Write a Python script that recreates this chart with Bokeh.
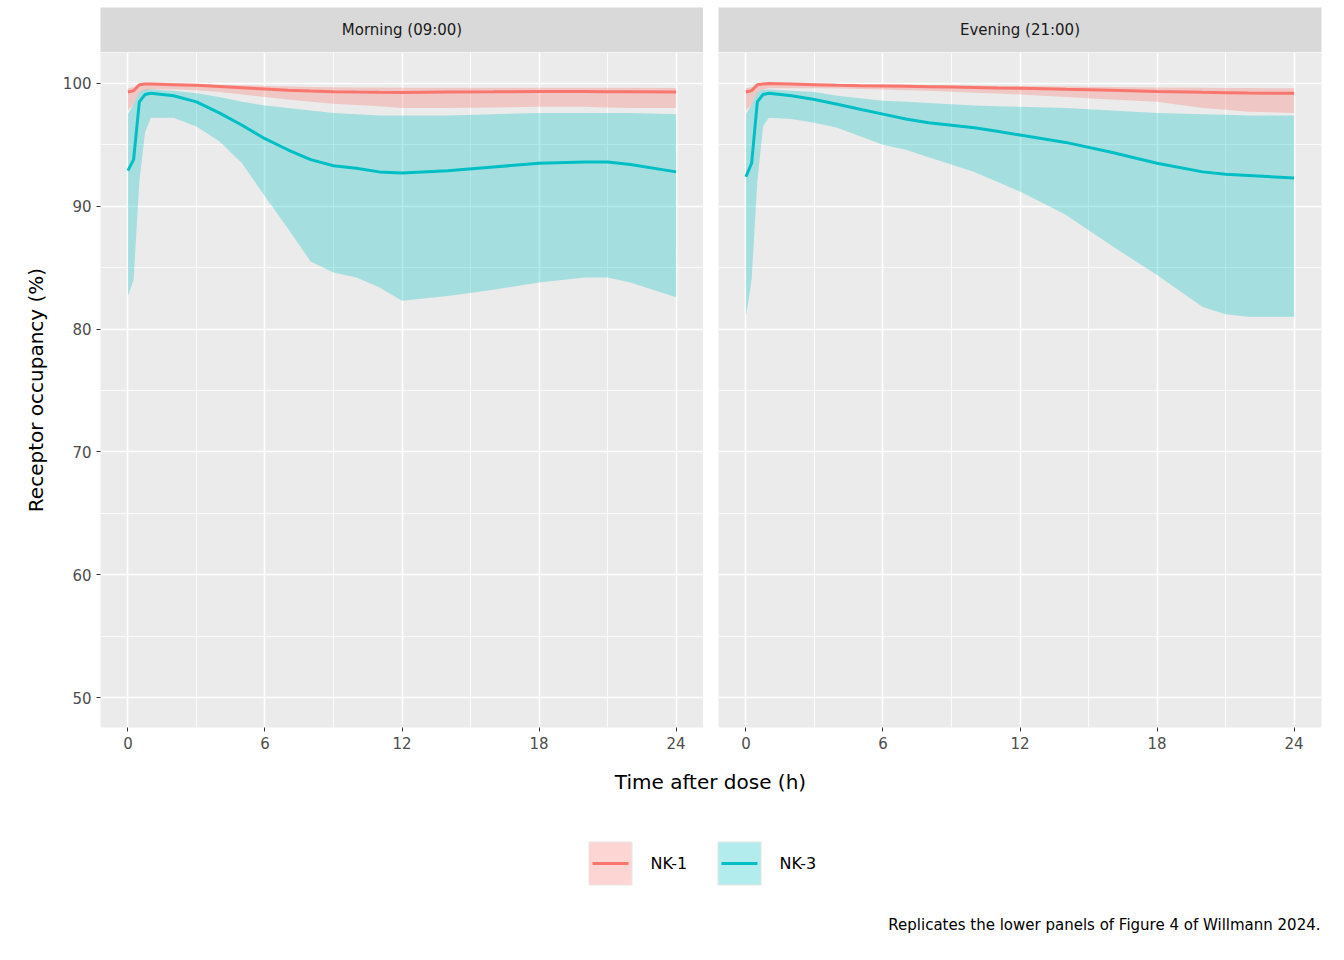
from bokeh.plotting import figure
from bokeh.layouts import column, row
from bokeh.models import FixedTicker, Range1d
from bokeh.core.properties import value
from bokeh.embed import file_html
from bokeh.resources import INLINE

T = [0, 0.25, 0.5, 0.75, 1, 2, 3, 4, 5, 6, 7, 8, 9, 10, 11, 12, 14, 16, 18, 20, 21, 22, 24]

# Morning
m_nk1_med = [99.3, 99.4, 99.9, 99.95, 99.95, 99.9, 99.85, 99.75, 99.65, 99.55, 99.45, 99.38, 99.33, 99.3, 99.28, 99.27, 99.3, 99.32, 99.35, 99.35, 99.33, 99.32, 99.3]
m_nk1_lo = [97.8, 98.3, 99.3, 99.45, 99.5, 99.5, 99.45, 99.3, 99.1, 98.9, 98.7, 98.5, 98.35, 98.25, 98.15, 98.0, 98.0, 98.05, 98.1, 98.1, 98.05, 98.0, 98.0]
m_nk1_hi = [99.6, 99.7, 99.95, 100.0, 100.0, 100.0, 99.95, 99.9, 99.85, 99.8, 99.75, 99.72, 99.7, 99.68, 99.67, 99.66, 99.66, 99.66, 99.66, 99.66, 99.65, 99.64, 99.62]
m_nk3_med = [92.9, 93.8, 98.5, 99.1, 99.2, 99.0, 98.5, 97.6, 96.6, 95.5, 94.6, 93.8, 93.3, 93.1, 92.8, 92.7, 92.9, 93.2, 93.5, 93.6, 93.6, 93.4, 92.8]
m_nk3_lo = [82.7, 84.0, 92.0, 96.0, 97.2, 97.2, 96.5, 95.3, 93.5, 90.8, 88.2, 85.5, 84.6, 84.2, 83.4, 82.3, 82.7, 83.2, 83.8, 84.2, 84.2, 83.8, 82.6]
m_nk3_hi = [97.5, 98.3, 99.3, 99.5, 99.5, 99.4, 99.2, 98.9, 98.5, 98.2, 98.0, 97.8, 97.6, 97.5, 97.4, 97.4, 97.4, 97.5, 97.6, 97.6, 97.6, 97.6, 97.5]

# Evening
e_nk1_med = [99.3, 99.4, 99.9, 99.95, 100.0, 99.95, 99.9, 99.85, 99.82, 99.8, 99.77, 99.74, 99.71, 99.67, 99.63, 99.6, 99.52, 99.45, 99.35, 99.28, 99.25, 99.22, 99.2]
e_nk1_lo = [97.8, 98.3, 99.3, 99.5, 99.6, 99.6, 99.6, 99.58, 99.55, 99.5, 99.45, 99.4, 99.32, 99.25, 99.18, 99.1, 98.9, 98.7, 98.5, 98.0, 97.85, 97.7, 97.6]
e_nk1_hi = [99.6, 99.7, 99.95, 100.0, 100.0, 100.0, 100.0, 99.98, 99.95, 99.93, 99.9, 99.88, 99.86, 99.84, 99.82, 99.8, 99.76, 99.72, 99.68, 99.65, 99.63, 99.62, 99.6]
e_nk3_med = [92.4, 93.5, 98.5, 99.1, 99.2, 99.0, 98.7, 98.3, 97.9, 97.5, 97.1, 96.8, 96.6, 96.4, 96.1, 95.8, 95.2, 94.4, 93.5, 92.8, 92.6, 92.5, 92.3]
e_nk3_lo = [81.0, 84.0, 92.0, 96.5, 97.2, 97.1, 96.8, 96.4, 95.7, 95.0, 94.6, 94.0, 93.4, 92.8, 92.0, 91.2, 89.3, 86.8, 84.4, 81.8, 81.2, 81.0, 81.0]
e_nk3_hi = [97.5, 98.3, 99.3, 99.5, 99.5, 99.4, 99.3, 99.0, 98.8, 98.6, 98.5, 98.4, 98.3, 98.2, 98.15, 98.1, 98.0, 97.8, 97.6, 97.5, 97.45, 97.4, 97.4]

panels = ["Morning (09:00)", "Evening (21:00)"]
series = ["NK-1", "NK-3"]
y_ticks = [50, 60, 70, 80, 90, 100]
x_ticks = [0, 6, 12, 18, 24]
C1, C3 = "#F8766D", "#00BFC4"
FONT = "DejaVu Sans"


def strip(name, left):
    s = figure(frame_width=603, frame_height=45,
               min_border_left=100 if left else 15, min_border_right=0 if left else 8,
               min_border_top=7, min_border_bottom=0,
               x_range=Range1d(0, 1), y_range=Range1d(0, 1),
               output_backend="svg", toolbar_location=None)
    s.axis.visible = False
    s.grid.visible = False
    s.outline_line_color = None
    s.background_fill_color = "#d9d9d9"
    s.text(x=[0.5], y=[0.5], text=[name], text_font=value(FONT), text_font_size="15px",
           text_align="center", text_baseline="middle", text_color="#1a1a1a")
    return s


def panel(data, left):
    p = figure(frame_width=603, frame_height=675,
               min_border_left=100 if left else 15, min_border_right=0 if left else 8,
               min_border_top=0, min_border_bottom=40,
               x_range=Range1d(-1.2, 25.2), y_range=Range1d(47.56, 102.52),
               output_backend="svg", toolbar_location=None)
    p.background_fill_color = "#ebebeb"
    p.border_fill_color = "white"
    p.outline_line_color = None
    for ax in (p.xaxis[0], p.yaxis[0]):
        ax.axis_line_color = None
        ax.major_tick_line_color = "#333333"
        ax.major_tick_out = 4
        ax.major_tick_in = 0
        ax.minor_tick_line_color = None
        ax.major_label_text_font = FONT
        ax.major_label_text_font_size = "15px"
        ax.major_label_text_color = "#4d4d4d"
    p.xaxis.ticker = FixedTicker(ticks=x_ticks, minor_ticks=[3, 9, 15, 21])
    p.yaxis.ticker = FixedTicker(ticks=y_ticks, minor_ticks=[55, 65, 75, 85, 95])
    if left:
        p.yaxis.axis_label = "Receptor occupancy (%)"
        p.yaxis.axis_label_text_font = FONT
        p.yaxis.axis_label_text_font_size = "20px"
        p.yaxis.axis_label_text_font_style = "normal"
        p.yaxis.axis_label_text_color = "black"
        p.yaxis.axis_label_standoff = 12
    else:
        p.yaxis.visible = False
    for g in (p.xgrid, p.ygrid):
        g.grid_line_color = "white"
        g.grid_line_width = 1.6
        g.minor_grid_line_color = "white"
        g.minor_grid_line_width = 0.8
    med1, lo1, hi1, med3, lo3, hi3 = data
    p.varea(x=T, y1=lo1, y2=hi1, fill_color=C1, fill_alpha=0.3)
    p.varea(x=T, y1=lo3, y2=hi3, fill_color=C3, fill_alpha=0.3)
    p.line(T, med1, line_color=C1, line_width=3)
    p.line(T, med3, line_color=C3, line_width=3)
    return p


s1 = strip(panels[0], True)
s2 = strip(panels[1], False)
p1 = panel((m_nk1_med, m_nk1_lo, m_nk1_hi, m_nk3_med, m_nk3_lo, m_nk3_hi), True)
p2 = panel((e_nk1_med, e_nk1_lo, e_nk1_hi, e_nk3_med, e_nk3_lo, e_nk3_hi), False)

# bottom: x label, legend, caption (pixel coords)
W, H = 1336, 175
b = figure(width=W, height=H, x_range=Range1d(0, W), y_range=Range1d(H, 0),
           output_backend="svg", toolbar_location=None, min_border=0)
b.axis.visible = False
b.grid.visible = False
b.outline_line_color = None
b.text(x=[710], y=[14], text=["Time after dose (h)"], text_font_size="20px",
       text_font=value(FONT), text_align="center", text_baseline="middle", text_color="black")
bx = [589, 718]
for i, (nm, c) in enumerate(zip(series, [C1, C3])):
    b.rect(x=[bx[i] + 21], y=[96], width=43, height=43, fill_color=c, fill_alpha=0.3,
           line_color="#e6e6e6")
    b.line(x=[bx[i] + 3, bx[i] + 39], y=[96, 96], line_color=c, line_width=3)
    b.text(x=[bx[i] + 61], y=[96], text=[nm], text_font_size="16px", text_font=value(FONT),
           text_baseline="middle", text_color="black")
b.text(x=[1320], y=[157], text=["Replicates the lower panels of Figure 4 of Willmann 2024."],
       text_font_size="15px", text_font=value(FONT), text_align="right", text_baseline="middle",
       text_color="black")

layout = column(row(column(s1, p1, spacing=0), column(s2, p2, spacing=0), spacing=0), b, spacing=0)
open("out.html", "w").write(file_html(layout, INLINE))
